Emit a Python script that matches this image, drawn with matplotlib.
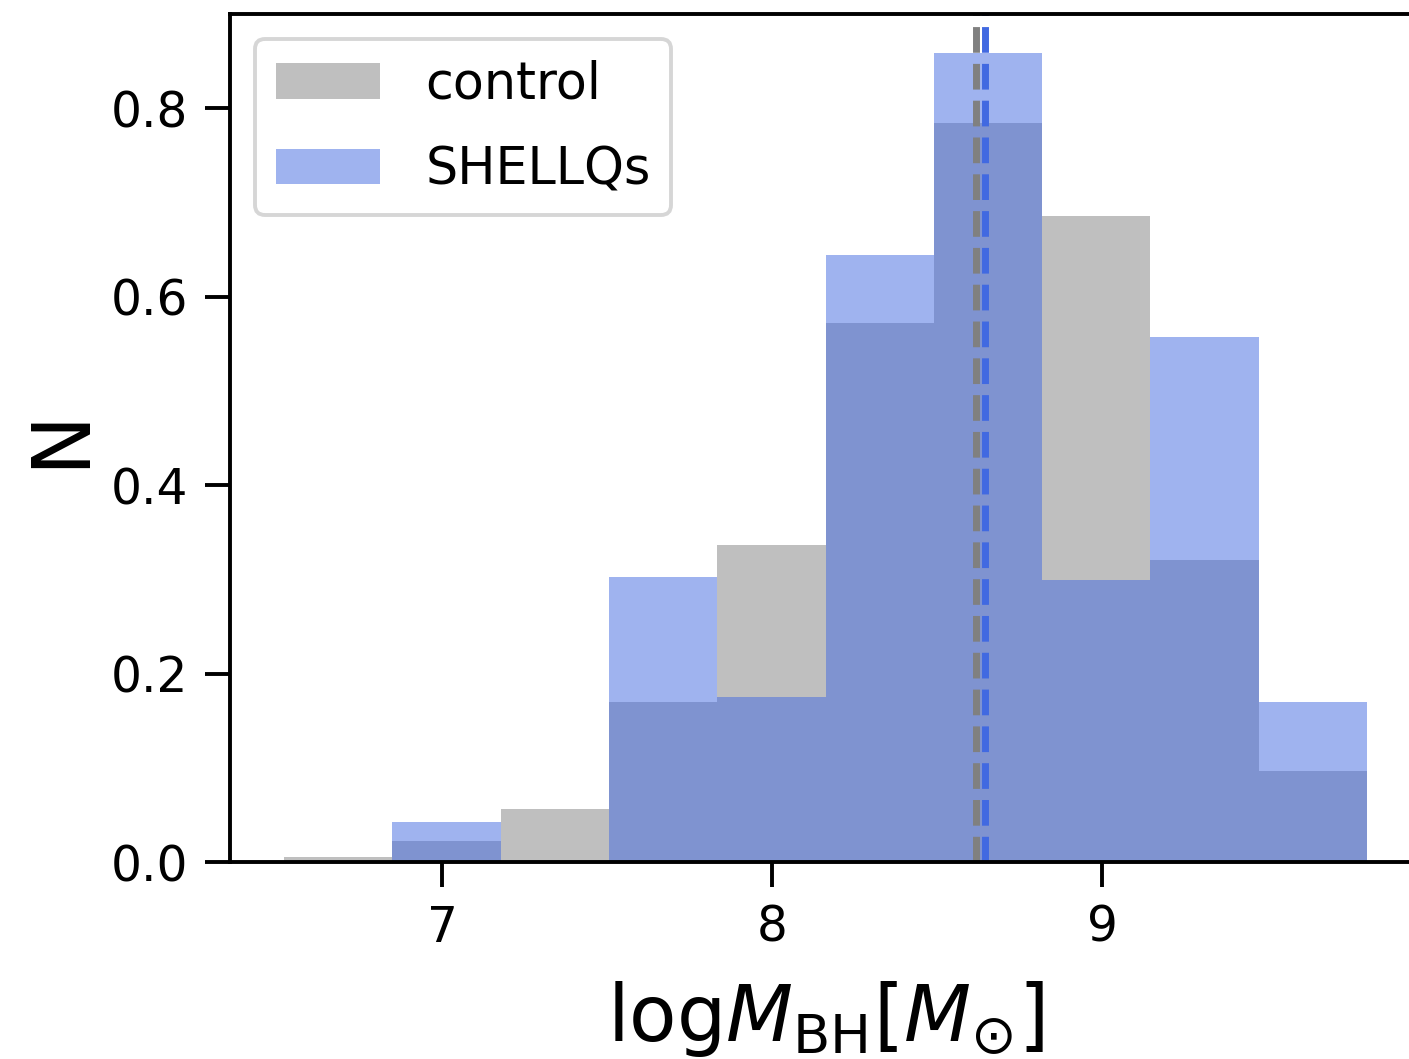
import numpy as np
import matplotlib
matplotlib.use("Agg")
import matplotlib.pyplot as plt

# ---- data ----
bin_edges = [6.521, 6.849, 7.177, 7.506, 7.834, 8.162, 8.490, 8.818, 9.146, 9.475, 9.803]
control_density = [0.005, 0.022, 0.056, 0.170, 0.336, 0.572, 0.784, 0.686, 0.321, 0.097]
shellqs_density = [0.0, 0.042, 0.0, 0.302, 0.175, 0.644, 0.859, 0.299, 0.557, 0.170]
control_median = 8.616
shellqs_median = 8.645
labels = ["control", "SHELLQs"]
xticks = [7, 8, 9]
yticks = [0.0, 0.2, 0.4, 0.6, 0.8]

W, H = 1409, 1059
fig = plt.figure(figsize=(W / 100, H / 100), dpi=100)

edges = np.array(bin_edges)
centers = 0.5 * (edges[:-1] + edges[1:])

ax = fig.add_axes([0.1, 0.1, 0.8, 0.8])
ax.hist(centers, bins=edges, weights=control_density, color="gray", alpha=0.5,
        label=labels[0])
ax.hist(centers, bins=edges, weights=shellqs_density, color="royalblue", alpha=0.5,
        label=labels[1])
ax.axvline(control_median, color="gray", ls="--", lw=5)
ax.axvline(shellqs_median, color="royalblue", ls="--", lw=5)

ax.set_ylim(0, 0.9)
x0, x1 = ax.get_xlim()
px_per_unit = 330.0
left_px, bottom_px, top_px = 230.0, 862.0, 14.0
ax.set_position([left_px / W, 1 - bottom_px / H,
                 (x1 - x0) * px_per_unit / W, (bottom_px - top_px) / H])

ax.set_xticks(xticks)
ax.set_yticks(yticks)
ax.set_yticklabels([f"{v:.1f}" for v in yticks])
ax.tick_params(axis="both", labelsize=35, length=18, width=2.8, pad=12)
for sp in ax.spines.values():
    sp.set_linewidth(2.8)

ax.set_xlabel(r"log$M_{\rm BH}[M_{\odot}]$", fontsize=56, labelpad=20)
ax.set_ylabel("N", fontsize=58, labelpad=8)

leg = ax.legend(loc="upper left", fontsize=36.5, framealpha=0.8,
                labelspacing=0.7, handletextpad=0.9, handlelength=2.05)
leg.get_frame().set_linewidth(2.8)

fig.savefig("out.png", dpi=100)
